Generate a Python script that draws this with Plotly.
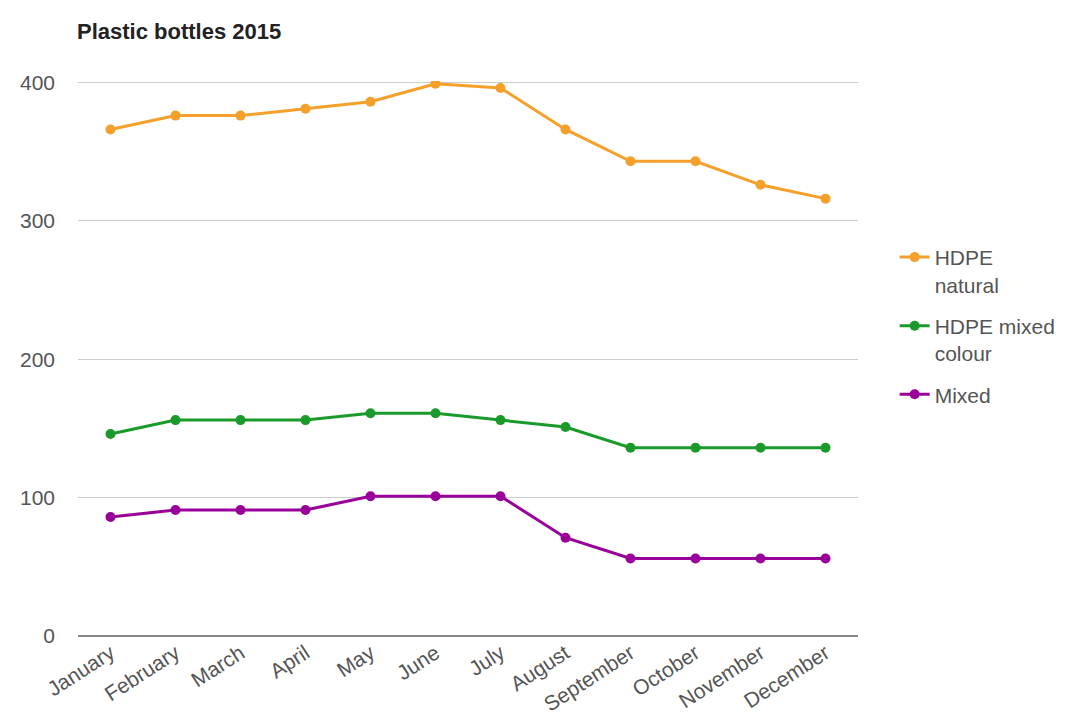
import plotly.graph_objects as go

months = ["January", "February", "March", "April", "May", "June", "July",
          "August", "September", "October", "November", "December"]
hdpe_natural = [366, 376, 376, 381, 386, 399, 396, 366, 343, 343, 326, 316]
hdpe_mixed = [146, 156, 156, 156, 161, 161, 156, 151, 136, 136, 136, 136]
mixed = [86, 91, 91, 91, 101, 101, 101, 71, 56, 56, 56, 56]

series = [
    ("HDPE<br>natural", hdpe_natural, "#f5a02a"),
    ("HDPE mixed<br>colour", hdpe_mixed, "#1a9a2a"),
    ("Mixed", mixed, "#990099"),
]

fig = go.Figure()
for i, (name, vals, color) in enumerate(series):
    fig.add_trace(go.Scatter(
        x=months, y=vals, name=name, mode="lines+markers", legendgroup=f"g{i}",
        line=dict(color=color, width=3),
        marker=dict(color=color, size=10),
    ))

W, H = 1065, 719
font_family = "Liberation Sans, Arial, sans-serif"
fig.update_layout(
    width=W, height=H,
    margin=dict(l=70, r=W - 850, t=73, b=H - 628),
    paper_bgcolor="white", plot_bgcolor="white",
    font=dict(family=font_family, size=21, color="#555555"),
    title=dict(text="<b>Plastic bottles 2015</b>", x=69 / W, xanchor="left",
               xref="container", y=1 - 23 / H, yanchor="middle", yref="container",
               font=dict(size=22, color="#222222", family=font_family)),
    showlegend=True,
    legend=dict(x=1.047, xanchor="left", y=0.719, yanchor="top", valign="top",
                font=dict(size=21, color="#555555"), tracegroupgap=11,
                bgcolor="rgba(0,0,0,0)"),
    hovermode=False,
)
fig.update_xaxes(type="category", range=[-0.5, 11.5], showgrid=False,
                 tickangle=-33, showline=False, zeroline=False, ticks="")
fig.update_yaxes(range=[0, 401], tickvals=[0, 100, 200, 300, 400],
                 showgrid=True, gridcolor="#cccccc", gridwidth=1,
                 zeroline=True, zerolinecolor="#888888", zerolinewidth=1.5,
                 ticklabelstandoff=22, showline=False, ticks="")

fig.write_html("out.html")
